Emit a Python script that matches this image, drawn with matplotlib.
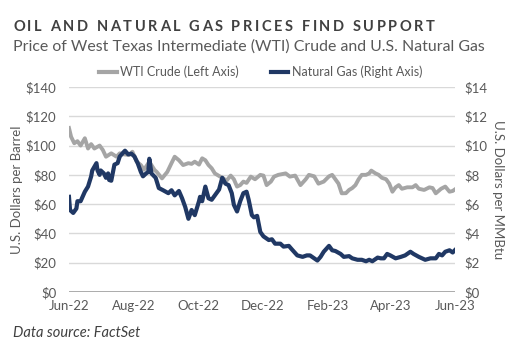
import numpy as np
import pandas as pd
import matplotlib
matplotlib.use("Agg")
import matplotlib.pyplot as plt
import matplotlib.dates as mdates
from matplotlib.transforms import IdentityTransform
from matplotlib.ticker import FuncFormatter

# --- data: days after 2022-06-01 and closing prices ---
start = pd.Timestamp("2022-06-01")

wti_days = [0, 2, 5, 8, 11, 15, 18, 21, 24, 29, 32, 35, 40, 45, 48, 52, 57, 60, 64, 68,
            71, 76, 81, 83, 88, 93, 97, 100, 104, 108, 113, 116, 119, 123, 126, 129, 132,
            135, 138, 143, 146, 149, 153, 156, 159, 162, 165, 168, 172, 176, 181, 184, 187,
            191, 194, 198, 205, 209, 214, 219, 224, 227, 232, 236, 241, 246, 249, 252, 255,
            258, 262, 265, 268, 271, 274, 277, 281, 284, 286, 290, 293, 296, 300, 303, 306,
            309, 312, 315, 320, 325, 328, 331, 336, 341, 344, 347, 352, 356, 360, 363, 365]
wti_price = [112, 106, 101.6, 103, 100, 105, 98, 101, 98, 100, 97, 92.4, 94.7, 92.4, 94.7,
             94, 93.6, 95.8, 89, 86.7, 83.5, 89, 83.3, 82, 77.6, 82, 88, 92.4, 90, 86.7, 88,
             87.5, 89, 87, 91.3, 90, 86.7, 84.5, 81, 78.8, 77.6, 76, 79.5, 77, 72, 73, 75.4,
             74.5, 78.8, 77, 80, 79.5, 73, 75.4, 78.8, 80, 81, 78.8, 79.5, 73, 77, 80, 79,
             74, 75.4, 79, 80, 77, 74, 67.4, 67.5, 69.7, 71, 73, 77, 80, 80, 81, 82.9, 81, 80,
             78, 77, 74, 68.5, 71.5, 73, 70.5, 71.5, 71.5, 73, 70.5, 69.7, 71.5, 71, 67.4,
             70.5, 72, 68.5, 69, 70]

gas_days = [0, 1, 4, 7, 8, 11, 15, 18, 21, 22, 26, 27, 29, 30, 33, 35, 37, 38, 40, 43, 46,
            48, 51, 53, 56, 59, 62, 65, 68, 70, 73, 75, 76, 78, 82, 85, 89, 94, 97, 100, 104,
            107, 110, 113, 116, 119, 123, 124, 126, 129, 132, 135, 138, 142, 145, 148, 151,
            154, 156, 159, 162, 165, 168, 170, 173, 175, 178, 181, 184, 189, 192, 195, 200,
            203, 208, 211, 216, 221, 225, 228, 232, 235, 238, 241, 246, 249, 252, 257, 260,
            265, 268, 273, 277, 281, 284, 287, 292, 295, 298, 301, 304, 309, 314, 318, 323,
            326, 331, 337, 342, 347, 350, 353, 356, 360, 363, 365]
gas_price = [6.5, 5.6, 5.4, 5.7, 6.2, 6.2, 6.85, 7.2, 7.9, 8.3, 8.8, 8.3, 8.0, 8.3, 8.1, 7.8,
             8.1, 7.65, 7.6, 8.7, 8.8, 9.25, 9.5, 9.65, 9.4, 9.45, 9.25, 8.8, 8.2, 7.9, 8.1,
             8.2, 9.1, 8.1, 7.8, 7.1, 6.95, 6.75, 6.95, 6.6, 6.9, 6.4, 5.8, 5.0, 5.6, 5.25,
             6.2, 6.5, 6.2, 7.2, 6.4, 6.3, 6.6, 7.0, 7.8, 7.4, 7.3, 6.75, 5.95, 5.5, 6.2, 6.75,
             6.85, 6.3, 5.25, 5.1, 5.2, 4.1, 3.8, 3.55, 3.6, 3.3, 3.3, 3.1, 3.15, 2.9, 2.5, 2.4,
             2.5, 2.5, 2.3, 2.15, 2.4, 2.75, 3.15, 2.85, 2.8, 2.6, 2.4, 2.45, 2.3, 2.2, 2.2, 2.1,
             2.2, 2.1, 2.35, 2.3, 2.3, 2.6, 2.5, 2.3, 2.4, 2.5, 2.75, 2.6, 2.4, 2.2, 2.3, 2.3,
             2.6, 2.5, 2.75, 2.85, 2.7, 2.85]

wti_dates = start + pd.to_timedelta(wti_days, unit="D")
gas_dates = start + pd.to_timedelta(gas_days, unit="D")

month_ticks = pd.date_range("2022-06-01", "2023-06-01", freq="2MS")
left_ticks = np.arange(0, 141, 20)
right_ticks = np.arange(0, 15, 2)

GRAY_LINE = "#a5a5a5"
NAVY = "#203864"
TEXT = "#595959"

plt.rcParams["font.family"] = ["Lato", "DejaVu Sans"]

fig = plt.figure(figsize=(5.11, 3.49), dpi=100)
ax = fig.add_axes([0.135, 0.1633, 0.755, 0.5874])
ax2 = ax.twinx()

ax.plot(wti_dates, wti_price, color=GRAY_LINE, lw=2.8, solid_joinstyle="round", zorder=3)
ax2.plot(gas_dates, gas_price, color=NAVY, lw=3.0, solid_joinstyle="round", zorder=3)

ax.set_xlim(start, pd.Timestamp("2023-06-01"))
ax.set_ylim(0, 140)
ax2.set_ylim(0, 14)
ax.set_yticks(left_ticks)
ax2.set_yticks(right_ticks)
ax.yaxis.set_major_formatter(FuncFormatter(lambda v, p: f"${v:.0f}"))
ax2.yaxis.set_major_formatter(FuncFormatter(lambda v, p: f"${v:.0f}"))
ax.set_xticks(month_ticks)
ax.xaxis.set_major_formatter(mdates.DateFormatter("%b-%y"))

ax.grid(axis="y", color="#d9d9d9", lw=1.0, zorder=0)
ax.set_axisbelow(True)
for a in (ax, ax2):
    for side in ("top", "left", "right", "bottom"):
        a.spines[side].set_visible(False)
    a.tick_params(length=0, labelsize=9.5, labelcolor=TEXT)
ax.axhline(0, color="#a6a6a6", lw=1.3, zorder=2)
ax.tick_params(axis="x", pad=6)
ax.tick_params(axis="y", pad=9)
ax2.tick_params(axis="y", pad=7)

ax.set_ylabel("U.S. Dollars per Barrel", fontsize=9.5, color=TEXT, labelpad=2)
ax2.set_ylabel("U.S. Dollars per MMBtu", fontsize=9.5, color=TEXT, rotation=-90, labelpad=12)

# legend above the plot
h1, = ax.plot([], [], color=GRAY_LINE, lw=3)
h2, = ax.plot([], [], color=NAVY, lw=3)
fig.legend([h1, h2], ["WTI Crude (Left Axis)", "Natural Gas (Right Axis)"],
           loc="center", bbox_to_anchor=(0.51, 1 - 72 / 349), ncol=2, frameon=False,
           fontsize=9, labelcolor=TEXT, handlelength=1.4, handletextpad=0.25,
           columnspacing=2.6)


def spaced_title(fig, text, x0, x1, y, **kw):
    # draw letter by letter so the heading spreads out between x0 and x1 (pixels)
    renderer = fig.canvas.get_renderer()
    probe = fig.text(0, 0, text, transform=IdentityTransform(), **kw)
    natural = probe.get_window_extent(renderer).width
    probe.remove()
    gap = (x1 - x0 - natural) / (len(text) - 1)
    for i, ch in enumerate(text):
        if i:
            probe = fig.text(0, 0, text[:i] + "|", transform=IdentityTransform(), **kw)
            bar = fig.text(0, 0, "|", transform=IdentityTransform(), **kw)
            w = probe.get_window_extent(renderer).width - bar.get_window_extent(renderer).width
            probe.remove()
            bar.remove()
        else:
            w = 0
        fig.text(x0 + w + i * gap, y, ch, transform=IdentityTransform(), va="center", **kw)


H = 349
spaced_title(fig, "OIL AND NATURAL GAS PRICES FIND SUPPORT", 13, 435, H - 27,
             fontsize=10.5, fontweight="bold", color="#404040")
fig.text(13 / 511, 1 - 47 / H, "Price of West Texas Intermediate (WTI) Crude and U.S. Natural Gas",
         fontsize=11.4, color=TEXT, va="center", ha="left")
fig.text(13 / 511, 1 - 333 / H, "Data source: FactSet", fontsize=10.5, style="italic",
         color="#404040", va="center", ha="left")

fig.savefig("out.png", dpi=100)
